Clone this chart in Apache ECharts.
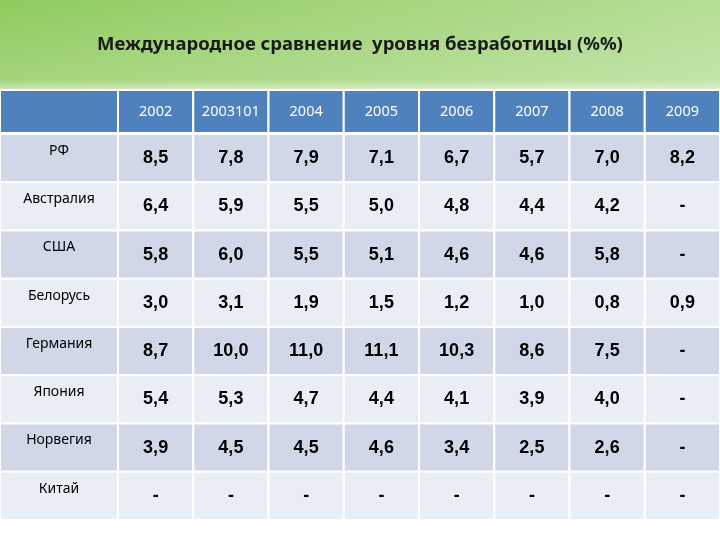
<!DOCTYPE html><html><head><meta charset="utf-8"><style>html,body{margin:0;padding:0}#c{width:720px;height:540px}</style>
<script src="https://cdn.jsdelivr.net/npm/echarts@6/dist/echarts.min.js"></script></head><body><div id="c"></div><script>
const title='Международное сравнение  уровня безработицы (%%)';
const years=['2002','2003101','2004','2005','2006','2007','2008','2009'];
const countries=['РФ','Австралия','США','Белорусь','Германия','Япония','Норвегия','Китай'];
const RF=['8,5','7,8','7,9','7,1','6,7','5,7','7,0','8,2'];
const AU=['6,4','5,9','5,5','5,0','4,8','4,4','4,2','-'];
const US=['5,8','6,0','5,5','5,1','4,6','4,6','5,8','-'];
const BY=['3,0','3,1','1,9','1,5','1,2','1,0','0,8','0,9'];
const DE=['8,7','10,0','11,0','11,1','10,3','8,6','7,5','-'];
const JP=['5,4','5,3','4,7','4,4','4,1','3,9','4,0','-'];
const NO=['3,9','4,5','4,5','4,6','3,4','2,5','2,6','-'];
const CN=['-','-','-','-','-','-','-','-'];
const rows=[RF,AU,US,BY,DE,JP,NO,CN];
const chart=echarts.init(document.getElementById('c'));
const cellData=[],labelData=[];
rows.forEach((r,i)=>{r.forEach((v,j)=>cellData.push([j,i,v]));labelData.push([0,i,countries[i]]);});
function mk(fs,fw,color,fill,pos){return function(p,api){
 const c=api.coord([api.value(0),api.value(1)]);const s=api.size([1,1]);
 const f=typeof fill==='function'?fill(api.value(1)):fill;
 return {type:'rect',shape:{x:c[0]-s[0]/2,y:c[1]-s[1]/2,width:s[0],height:s[1]},
  style:{fill:f,stroke:'#fff',lineWidth:2,text:api.value(2),textFill:color,fontSize:fs,fontWeight:fw,
   fontFamily:fw==='bold'?'Liberation Sans':'Noto Sans',textPosition:pos||'inside',textDistance:11}};};}
const rowFill=i=>i%2===0?'#d0d8e8':'#e9edf4';
const cat=(d)=>({type:'category',data:d,show:false});
chart.setOption({
 backgroundColor:'#fff',animation:false,
 graphic:[
  {type:'rect',z:-10,shape:{x:0,y:0,width:720,height:100},style:{fill:new echarts.graphic.LinearGradient(0,0,0,1,[{offset:0,color:'#8fcc5e'},{offset:0.8,color:'#a3d47a'},{offset:1,color:'#ffffff'}])}},
  {type:'rect',z:-9,shape:{x:0,y:0,width:720,height:100},style:{fill:new echarts.graphic.LinearGradient(0,0,1,0,[{offset:0,color:'rgba(255,255,255,0)'},{offset:1,color:'rgba(255,255,255,0.35)'}])}},
  {type:'text',left:'center',top:35,style:{text:title,fontSize:18.5,fontWeight:'bold',fill:'#1a1a1a',fontFamily:'Noto Sans'}}
 ],
 grid:[{left:0,top:90,width:118,height:43},{left:118,top:90,right:0,height:43},
       {left:0,top:134,width:118,height:386},{left:118,top:134,right:0,height:386}],
 xAxis:[{...cat(['']),gridIndex:0},{...cat(years),gridIndex:1},{...cat(['']),gridIndex:2},{...cat(years),gridIndex:3}],
 yAxis:[{...cat(['h']),gridIndex:0},{...cat(['h']),gridIndex:1},{...cat(countries),gridIndex:2,inverse:true},{...cat(countries),gridIndex:3,inverse:true}],
 series:[
  {type:'custom',xAxisIndex:0,yAxisIndex:0,data:[[0,0,'']],renderItem:mk(14,'normal','#fff','#4f81bd')},
  {type:'custom',xAxisIndex:1,yAxisIndex:1,data:years.map((y,j)=>[j,0,y]),renderItem:mk(14.5,'normal','#fff','#4f81bd')},
  {type:'custom',xAxisIndex:2,yAxisIndex:2,data:labelData,renderItem:mk(14,'normal','#000',rowFill,'insideTop')},
  {type:'custom',xAxisIndex:3,yAxisIndex:3,data:cellData,renderItem:mk(18,'bold','#000',rowFill)}
 ]});
</script></body></html>
